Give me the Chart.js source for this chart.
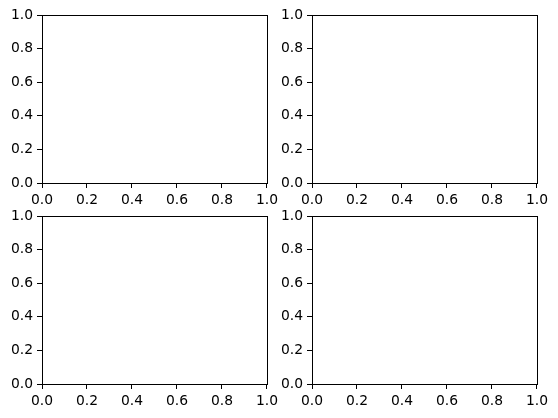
<!DOCTYPE html>
<html>
<head>
<meta charset="utf-8">
<script src="https://cdn.jsdelivr.net/npm/chart.js@4/dist/chart.umd.min.js"></script>
<style>
  html, body { margin: 0; padding: 0; background: #fff; }
  #fig { position: relative; width: 558px; height: 418px; overflow: hidden; }
  #fig canvas { position: absolute; }
</style>
</head>
<body>
<div id="fig">
  <canvas id="ax1" width="282" height="213" style="left:0px;top:0px"></canvas>
  <canvas id="ax2" width="282" height="213" style="left:270px;top:0px"></canvas>
  <canvas id="ax3" width="282" height="213" style="left:0px;top:201px"></canvas>
  <canvas id="ax4" width="282" height="213" style="left:270px;top:201px"></canvas>
</div>
<script>
// empty 2x2 subplots, axes 0..1
const xTicks = [0, 0.2, 0.4, 0.6, 0.8, 1.0];
const yTicks = [0, 0.2, 0.4, 0.6, 0.8, 1.0];
const xRange = [0, 1];
const yRange = [0, 1];
const seriesData = []; // nothing plotted

Chart.defaults.font.family = "'DejaVu Sans', sans-serif";
Chart.defaults.font.size = 13.89;
Chart.defaults.color = "#000";

// draws the box round the axes like matplotlib spines
const framePlugin = {
    id: 'frame',
    afterDraw(chart) {
        const { ctx, chartArea } = chart;
        const l = Math.round(chartArea.left) + 0.5;
        const t = Math.round(chartArea.top) + 0.5;
        const r = Math.round(chartArea.right) + 0.5;
        const b = Math.round(chartArea.bottom) + 0.5;
        ctx.save();
        ctx.strokeStyle = "#000";
        ctx.lineWidth = 1;
        ctx.strokeRect(l, t, r - l, b - t);
        ctx.restore();
    }
};

function axisOpts(range, ticks, isX) {
    return {
        type: 'linear',
        min: range[0],
        max: range[1],
        afterBuildTicks: (scale) => {
            scale.ticks = ticks.map(v => ({ value: v }));
        },
        afterFit: (scale) => {
            if (isX) scale.height = 30;
            else scale.width = 42;
        },
        border: { display: false },
        grid: {
            drawOnChartArea: false,
            drawTicks: true,
            tickLength: 5,
            tickWidth: 1,
            tickColor: "#000"
        },
        ticks: {
            padding: 4,
            autoSkip: false,
            maxRotation: 0,
            callback: (v) => Number(v).toFixed(1)
        }
    };
}

function makeAxes(id) {
    return new Chart(document.getElementById(id), {
        type: 'scatter',
        data: {
            datasets: [{ data: seriesData }]
        },
        options: {
            responsive: false,
            animation: false,
            layout: { padding: { left: 0, top: 15, right: 15, bottom: 0 } },
            plugins: {
                legend: { display: false },
                tooltip: { enabled: false }
            },
            scales: {
                x: axisOpts(xRange, xTicks, true),
                y: axisOpts(yRange, yTicks, false)
            }
        },
        plugins: [framePlugin]
    });
}

makeAxes("ax1");
makeAxes("ax2");
makeAxes("ax3");
makeAxes("ax4");
</script>
</body>
</html>
